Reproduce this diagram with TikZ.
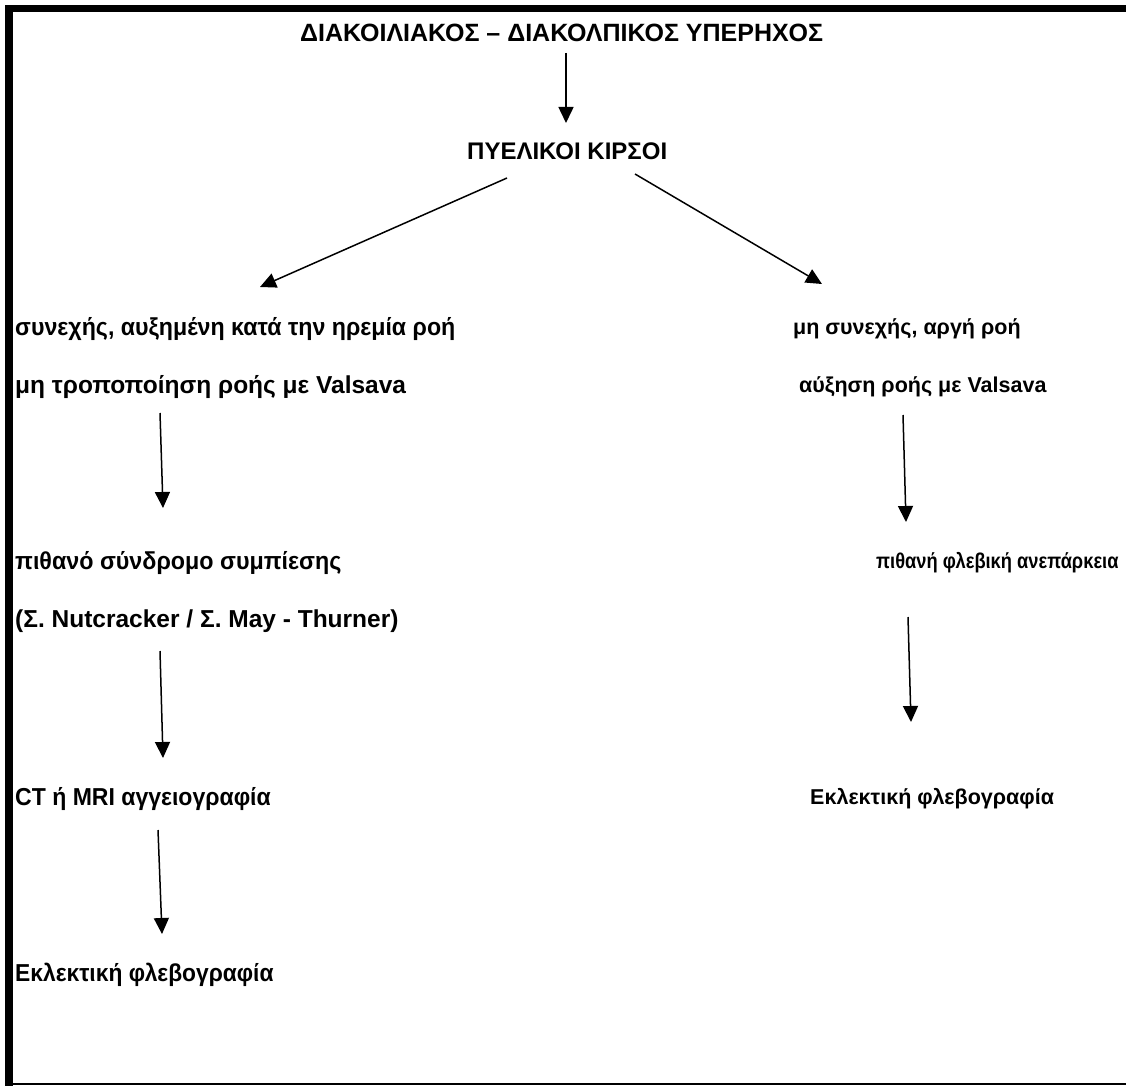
\documentclass[tikz,border=0pt]{standalone}
\usepackage{fontspec}
\setmainfont{Liberation Sans}
\usetikzlibrary{arrows.meta}
\begin{document}
\begin{tikzpicture}[x=1pt,y=-1pt,
  lbl/.style={inner sep=0pt,anchor=base west,font=\bfseries\fontsize{24.5}{29}\selectfont},
  rlbl/.style={lbl,font=\bfseries\fontsize{21.5}{26}\selectfont},
  arr/.style={line width=1.5pt,-{Triangle[length=16pt,width=15pt]}},
  frame/.style={fill=black,draw=none}]
\useasboundingbox (0,0) rectangle (1126,1086);
% frame
\fill[frame] (5,5) rectangle (1126,12.5);
\fill[frame] (5,5) rectangle (13,1086);
\fill[frame] (13,1082.7) rectangle (1126,1084.7);
% texts
\node[lbl,font=\bfseries\fontsize{25}{29}\selectfont] (title) at (300,42) {ΔΙΑΚΟΙΛΙΑΚΟΣ – ΔΙΑΚΟΛΠΙΚΟΣ ΥΠΕΡΗΧΟΣ};
\node[lbl,font=\bfseries\fontsize{24}{29}\selectfont] (pk) at (467,160) {ΠΥΕΛΙΚΟΙ ΚΙΡΣΟΙ};
\node[lbl] (l1) at (15,335) {\scalebox{0.946}[1]{συνεχής, αυξημένη κατά την ηρεμία ροή}};
\node[lbl] (l2) at (15,393) {μη τροποποίηση ροής με Valsava};
\node[rlbl] (r1) at (793,334) {μη συνεχής, αργή ροή};
\node[rlbl] (r2) at (799,392) {αύξηση ροής με Valsava};
\node[lbl] (l3) at (15,569) {\scalebox{0.95}[1]{πιθανό σύνδρομο συμπίεσης}};
\node[lbl] (l4) at (15,627) {(Σ. Nutcracker / Σ. May - Thurner)};
\node[rlbl] (r3) at (876,568) {\scalebox{0.85}[1]{πιθανή φλεβική ανεπάρκεια}};
\node[lbl] (l5) at (15,805) {\scalebox{0.94}[1]{CT ή MRI αγγειογραφία}};
\node[rlbl] (r4) at (810,804) {Εκλεκτική φλεβογραφία};
\node[lbl] (l6) at (15,981) {\scalebox{0.93}[1]{Εκλεκτική φλεβογραφία}};
% connector end points
\coordinate (a1s) at (566,53);  \coordinate (a1e) at (566,123);
\coordinate (a2s) at (507,178); \coordinate (a2e) at (260,287);
\coordinate (a3s) at (635,174); \coordinate (a3e) at (822,284);
\coordinate (a4s) at (160,413); \coordinate (a4e) at (163,508);
\coordinate (a5s) at (903,415); \coordinate (a5e) at (906,522);
\coordinate (a6s) at (160,651); \coordinate (a6e) at (163,758);
\coordinate (a7s) at (908,617); \coordinate (a7e) at (911,722);
\coordinate (a8s) at (158,830); \coordinate (a8e) at (162,934);
\draw[arr] (a1s) -- (a1e);
\draw[arr] (a2s) -- (a2e);
\draw[arr] (a3s) -- (a3e);
\draw[arr] (a4s) -- (a4e);
\draw[arr] (a5s) -- (a5e);
\draw[arr] (a6s) -- (a6e);
\draw[arr] (a7s) -- (a7e);
\draw[arr] (a8s) -- (a8e);
\end{tikzpicture}
\end{document}
